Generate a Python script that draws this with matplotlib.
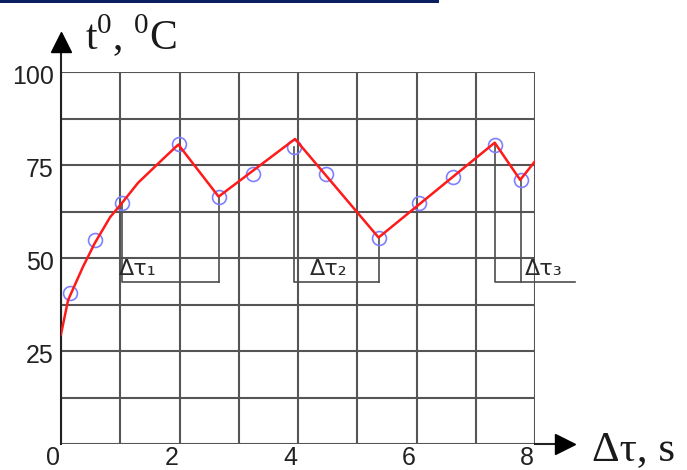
import matplotlib.pyplot as plt
import matplotlib.transforms as mtransforms
from matplotlib.patches import Rectangle

plt.rcParams['mathtext.fontset'] = 'custom'
plt.rcParams['mathtext.rm'] = 'Liberation Serif'

# measured points (blue circles)
pt_x = [0.15, 0.57, 1.03, 1.99, 2.66, 3.24, 3.93, 4.47, 5.36, 6.05, 6.61, 7.32, 7.76]
pt_y = [40.6, 54.8, 64.8, 80.6, 66.4, 72.6, 79.8, 72.6, 55.4, 64.8, 71.8, 80.4, 71.0]

# red curve
line_x = [0, 0.12, 0.37, 0.57, 0.83, 1.03, 1.3, 1.7, 1.98, 2.66, 3.95, 5.36, 7.32, 7.75, 8.0]
line_y = [29.5, 38.7, 47.6, 54.0, 61.0, 64.8, 70.2, 76.3, 80.5, 66.5, 82.0, 55.5, 81.0, 71.0, 76.0]

# delta-tau brackets: start x, start y, end x, end y, label
br_x0 = [1.03, 3.93, 7.32]
br_y0 = [64.8, 79.8, 80.4]
br_x1 = [2.66, 5.36, 7.76]
br_y1 = [66.4, 55.4, 71.0]
br_labels = ['Δτ₁', 'Δτ₂', 'Δτ₃']
br_bottom = 43.5

xticks = [0, 2, 4, 6, 8]
yticks = [25, 50, 75, 100]

W, H = 687, 470
fig = plt.figure(figsize=(W / 100, H / 100), dpi=100)
ax = fig.add_axes([61 / W, 26 / H, (535 - 61) / W, (444 - 72) / H])
ax.set_xlim(0, 8)
ax.set_ylim(0, 100)
ax.axis('off')

grid_c = '#555555'
for gx in range(0, 9):
    ax.plot([gx, gx], [0, 100], color=grid_c, lw=1.5, zorder=1)
for i in range(9):
    gy = i * 12.5
    ax.plot([0, 8], [gy, gy], color=grid_c, lw=1.5, zorder=1)

# axis arrows
ax.plot([0, 0], [0, 105.5], color='#222222', lw=1.5, clip_on=False, zorder=2)
ax.plot([0], [108], marker='^', ms=15, color='black', clip_on=False, zorder=3)
ax.plot([8, 8.35], [0, 0], color='#222222', lw=1.5, clip_on=False, zorder=2)
ax.plot([8.5], [0], marker='>', ms=15, color='black', clip_on=False, zorder=3)

# brackets
br_c = '#4d4d4d'
for i in range(3):
    end = br_x1[i] if i < 2 else 8.67
    ax.plot([br_x0[i], br_x0[i], end], [br_y0[i], br_bottom, br_bottom],
            color=br_c, lw=1.2, clip_on=False, zorder=2)
    ax.plot([br_x1[i], br_x1[i]], [br_y1[i], br_bottom], color=br_c, lw=1.2, zorder=2)

lab_x = [0.97, 4.2, 7.83]
for i in range(3):
    ax.text(lab_x[i], br_bottom + 0.8, br_labels[i], fontsize=16, color='#2a2a2a',
            family='DejaVu Sans', ha='left', va='bottom', clip_on=False)

ax.plot(pt_x, pt_y, 'o', ms=10, mfc='none', mec='#8080ff', mew=1.2, zorder=4)
ax.plot(line_x, line_y, color='#ff1a1a', lw=1.8, zorder=5)

# tick labels
ytr = mtransforms.offset_copy(ax.transData, fig=fig, x=-7, y=-5, units='dots')
for v in yticks:
    ax.text(0, v, str(v), transform=ytr, ha='right', va='center', fontsize=18,
            family='Liberation Sans', color='#222222')
xtr = mtransforms.offset_copy(ax.transData, fig=fig, x=-8, y=-14, units='dots')
for v in xticks:
    ax.text(v, 0, str(v), transform=xtr, ha='center', va='center', fontsize=18,
            family='Liberation Sans', color='#222222')

# axis titles
fig.text(85 / W, 1 - 50 / H, r't$^{0}$, $^{0}$C', fontsize=30, family='Liberation Serif',
         color='#1a1a1a', ha='left', va='baseline')
fig.text(592 / W, 1 - 460 / H, 'Δτ, s', fontsize=31, family='Liberation Serif',
         color='#1a1a1a', ha='left', va='baseline')

# top rule
fig.add_artist(Rectangle((0, 1 - 3 / H), 439 / W, 3 / H, transform=fig.transFigure,
                         color='#0b1f5e', lw=0))

fig.savefig('out.png', dpi=100)
